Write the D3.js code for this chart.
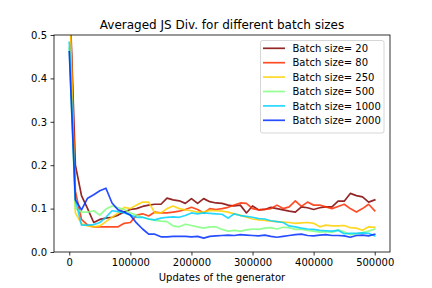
<!DOCTYPE html>
<html><head><meta charset="utf-8">
<script src="https://cdn.jsdelivr.net/npm/d3@7"></script>
<style>body{margin:0;background:#fff}svg{display:block;font-family:"DejaVu Sans",sans-serif}</style>
</head><body><svg id="c" width="432" height="288"></svg>
<script>
const updates = d3.range(0, 510000, 10000);
const batchSizes = ["20", "80", "250", "500", "1000", "2000"];
const seriesColors = ["#800000", "#ff2e00", "#ffd100", "#80ff80", "#00d1ff", "#002eff"];
const js20 = [0.62,0.2,0.13,0.10,0.068,0.075,0.078,0.08,0.085,0.092,0.098,0.1,0.105,0.108,0.11,0.11,0.124,0.12,0.118,0.112,0.123,0.112,0.123,0.116,0.113,0.112,0.108,0.106,0.108,0.09,0.106,0.097,0.098,0.103,0.1,0.097,0.094,0.092,0.104,0.102,0.098,0.102,0.104,0.104,0.117,0.117,0.135,0.13,0.127,0.115,0.12];
const js80 = [0.62,0.14,0.075,0.062,0.058,0.058,0.058,0.058,0.058,0.066,0.068,0.085,0.088,0.083,0.092,0.09,0.09,0.092,0.094,0.098,0.103,0.098,0.09,0.1,0.098,0.1,0.103,0.108,0.113,0.112,0.1,0.097,0.098,0.1,0.108,0.1,0.104,0.118,0.105,0.115,0.108,0.108,0.104,0.1,0.105,0.11,0.1,0.092,0.1,0.11,0.095];
const js250 = [0.62,0.09,0.065,0.06,0.058,0.06,0.07,0.08,0.09,0.103,0.1,0.108,0.115,0.115,0.09,0.09,0.1,0.106,0.1,0.097,0.095,0.092,0.092,0.096,0.095,0.094,0.092,0.088,0.085,0.08,0.076,0.074,0.073,0.071,0.07,0.069,0.068,0.066,0.067,0.068,0.066,0.058,0.062,0.06,0.06,0.061,0.056,0.055,0.05,0.058,0.057];
const js500 = [0.47,0.1,0.092,0.092,0.095,0.085,0.099,0.106,0.102,0.098,0.09,0.085,0.08,0.076,0.073,0.071,0.07,0.06,0.058,0.064,0.061,0.058,0.055,0.058,0.058,0.052,0.048,0.05,0.048,0.051,0.053,0.052,0.055,0.056,0.053,0.057,0.056,0.052,0.052,0.05,0.048,0.046,0.047,0.045,0.051,0.046,0.04,0.042,0.045,0.048,0.053];
const js1000 = [0.483,0.12,0.062,0.062,0.063,0.068,0.08,0.095,0.093,0.09,0.085,0.08,0.08,0.076,0.074,0.078,0.08,0.081,0.08,0.084,0.09,0.088,0.09,0.089,0.088,0.087,0.078,0.088,0.084,0.082,0.08,0.077,0.076,0.072,0.07,0.068,0.06,0.058,0.055,0.053,0.052,0.05,0.049,0.048,0.05,0.042,0.043,0.043,0.044,0.043,0.037];
const js2000 = [0.461,0.12,0.097,0.124,0.132,0.141,0.147,0.113,0.097,0.092,0.085,0.067,0.053,0.041,0.041,0.035,0.035,0.036,0.036,0.036,0.035,0.036,0.032,0.036,0.037,0.038,0.039,0.038,0.04,0.039,0.038,0.037,0.039,0.036,0.034,0.036,0.038,0.04,0.041,0.038,0.037,0.039,0.04,0.038,0.038,0.037,0.034,0.038,0.039,0.037,0.041];
const allSeries = [js20, js80, js250, js500, js1000, js2000];
const xTicks = [0, 100000, 200000, 300000, 400000, 500000];
const yTicks = [0.0, 0.1, 0.2, 0.3, 0.4, 0.5];

const svg = d3.select("#c");
const L = 54, R = 390, T = 35, B = 252;
const x = d3.scaleLinear().domain([-25000, 525000]).range([L, R]);
const y = d3.scaleLinear().domain([0, 0.5]).range([B, T]);

svg.append("defs").append("clipPath").attr("id","clip")
  .append("rect").attr("x",L).attr("y",T).attr("width",R-L).attr("height",B-T);

const line = d3.line().x((d,i)=>x(updates[i])).y(d=>y(d));
const g = svg.append("g").attr("clip-path","url(#clip)");
allSeries.forEach((s,k)=>{
  g.append("path").datum(s).attr("d",line).attr("fill","none")
   .attr("stroke",seriesColors[k]).attr("stroke-width",1.7).attr("stroke-opacity",0.85)
   .attr("stroke-linejoin","round").attr("stroke-linecap","square");
});

const xAxis = svg.append("g").attr("transform",`translate(0,${B})`)
  .call(d3.axisBottom(x).tickValues(xTicks).tickFormat(d3.format("d")).tickSizeOuter(0).tickSize(3.5).tickPadding(3.5));
const yAxis = svg.append("g").attr("transform",`translate(${L},0)`)
  .call(d3.axisLeft(y).tickValues(yTicks).tickFormat(d3.format(".1f")).tickSizeOuter(0).tickSize(3.5).tickPadding(3.5));
[xAxis,yAxis].forEach(a=>{
  a.select(".domain").remove();
  a.selectAll("text").attr("font-size",10).attr("font-family","DejaVu Sans").attr("fill","#000");
  a.selectAll("line").attr("stroke","#000").attr("stroke-width",0.8);
});
svg.append("rect").attr("x",L).attr("y",T).attr("width",R-L).attr("height",B-T)
  .attr("fill","none").attr("stroke","#000").attr("stroke-width",0.8);

svg.append("text").attr("x",(L+R)/2).attr("y",29).attr("text-anchor","middle")
  .attr("font-size",12).text("Averaged JS Div. for different batch sizes");
svg.append("text").attr("x",(L+R)/2).attr("y",281).attr("text-anchor","middle")
  .attr("font-size",10).text("Updates of the generator");

const lg = svg.append("g");
lg.append("rect").attr("x",260.5).attr("y",40.5).attr("width",123.5).attr("height",92.5)
  .attr("rx",2).attr("fill","#fff").attr("fill-opacity",0.8).attr("stroke","#ccc").attr("stroke-width",0.8);
batchSizes.forEach((b,k)=>{
  const yy = 48.3 + k*14.4;
  lg.append("line").attr("x1",263).attr("x2",285).attr("y1",yy).attr("y2",yy)
    .attr("stroke",seriesColors[k]).attr("stroke-width",1.7).attr("stroke-opacity",0.85);
  lg.append("text").attr("x",292.5).attr("y",yy+3.6).attr("font-size",10).text("Batch size= "+b);
});
</script></body></html>
